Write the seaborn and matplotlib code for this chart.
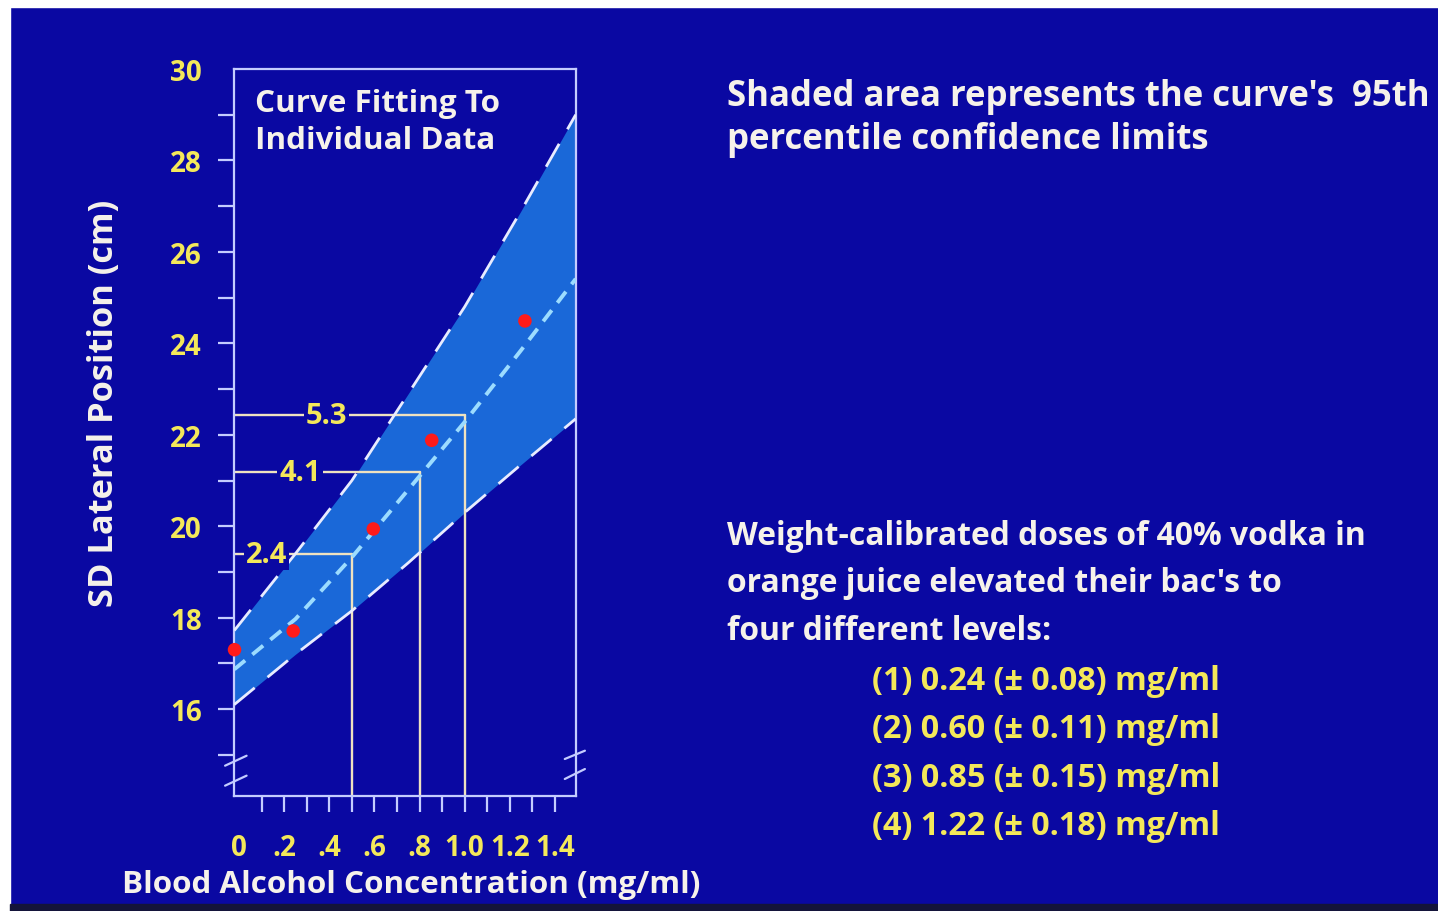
import matplotlib
matplotlib.use("Agg")
import matplotlib.pyplot as plt
from matplotlib.patches import Rectangle
import seaborn as sns
import pandas as pd

# ---------------- data ----------------
fit_x   = [-0.021, 0.25, 0.5, 0.75, 1.0, 1.25, 1.492]
fit_mid = [16.87, 17.97, 19.32, 20.80, 22.28, 23.85, 25.41]
fit_lo  = [16.10, 17.20, 18.15, 19.20, 20.30, 21.35, 22.35]
fit_hi  = [17.72, 19.40, 21.00, 22.90, 24.80, 26.90, 29.00]

dose_x = [-0.02, 0.24, 0.595, 0.854, 1.267]
sdlp_y = [17.30, 17.71, 19.94, 21.88, 24.49]

bracket_x = [0.5, 0.8, 1.0]
bracket_y = [19.39, 21.18, 22.43]
bracket_labels = ["2.4", "4.1", "5.3"]
bracket_label_x = [0.123, 0.27, 0.386]

xtick_vals = [0, 0.2, 0.4, 0.6, 0.8, 1.0, 1.2, 1.4]
xtick_labels = ["0", ".2", ".4", ".6", ".8", "1.0", "1.2", "1.4"]
xminor_vals = [0.1, 0.2, 0.3, 0.4, 0.5, 0.6, 0.7, 0.8, 0.9, 1.0, 1.1, 1.2, 1.3, 1.4]
ytick_vals = [16, 18, 20, 22, 24, 26, 28, 30]
yminor_vals = [15, 17, 19, 21, 23, 25, 27, 29]

title_lines = ["Curve Fitting To", "Individual Data"]
note1_lines = ["Shaded area represents the curve's  95th", "percentile confidence limits"]
note2_lines = ["Weight-calibrated doses of 40% vodka in",
               "orange juice elevated their bac's to",
               "four different levels:"]
dose_lines = ["(1) 0.24 (\u00b1 0.08) mg/ml",
              "(2) 0.60 (\u00b1 0.11) mg/ml",
              "(3) 0.85 (\u00b1 0.15) mg/ml",
              "(4) 1.22 (\u00b1 0.18) mg/ml"]
xlabel = "Blood Alcohol Concentration (mg/ml)"
ylabel = "SD Lateral Position (cm)"

# ---------------- style ----------------
BG = "#0a08a2"
FILL = "#1a68d8"
SPINE = "#c4ccff"
WHITE = "#f6f2ea"
YELLOW = "#f4e85a"
LINEC = "#efe2c0"

sns.set_theme(style="ticks")
plt.rcParams["font.family"] = ["Open Sans", "DejaVu Sans"]
plt.rcParams["font.weight"] = "bold"

W, H = 1438, 912
fig = plt.figure(figsize=(W / 100, H / 100), dpi=100, facecolor=BG)
ax = fig.add_axes([234.3 / W, 1 - 797 / H, 341.4 / W, 727 / H])
ax.set_facecolor(BG)

ax.set_xlim(-0.021, 1.492)
ax.set_ylim(14.1, 30)

df = pd.DataFrame({"x": fit_x, "mid": fit_mid, "lo": fit_lo, "hi": fit_hi})
ax.fill_between(df["x"], df["lo"], df["hi"], color=FILL, lw=0, zorder=1)
sns.lineplot(data=df, x="x", y="hi", ax=ax, color="#e8ecff", lw=2.0,
             linestyle=(0, (9.5, 6)), estimator=None, zorder=3)
sns.lineplot(data=df, x="x", y="lo", ax=ax, color="#e8ecff", lw=2.0,
             linestyle=(0, (9.5, 6)), estimator=None, zorder=3)
sns.lineplot(data=df, x="x", y="mid", ax=ax, color="#9cdcff", lw=2.8,
             linestyle=(0, (3.6, 2.4)), estimator=None, zorder=3)

# brackets
for bx, by, lab, lx in zip(bracket_x, bracket_y, bracket_labels, bracket_label_x):
    ax.plot([ax.get_xlim()[0], bx], [by, by], color=LINEC, lw=1.7, zorder=2)
    ax.plot([bx, bx], [ax.get_ylim()[0], by], color=LINEC, lw=1.7, zorder=2)
    ax.text(lx, by, lab, color=YELLOW, fontsize=21, fontweight="bold",
            ha="center", va="center", zorder=4,
            bbox=dict(boxstyle="square,pad=0.06", fc=BG, ec="none"))

sns.scatterplot(x=dose_x, y=sdlp_y, ax=ax, color="#ff1a1a", s=95,
                edgecolor="none", zorder=6, clip_on=False)

# spines and ticks
for s in ax.spines.values():
    s.set_color(SPINE)
    s.set_linewidth(1.6)
ax.xaxis.remove_overlapping_locs = False
ax.set_xticks(xtick_vals)
ax.set_xticklabels(xtick_labels)
ax.set_xticks(xminor_vals, minor=True)
ax.set_yticks(ytick_vals)
ax.set_yticklabels([str(v) for v in ytick_vals])
ax.set_yticks(yminor_vals, minor=True)
ax.tick_params(axis="x", which="major", length=0, pad=27, labelsize=20,
               labelcolor=YELLOW)
ax.tick_params(axis="x", which="minor", length=11.5, width=1.6, color=SPINE,
               direction="out")
ax.tick_params(axis="y", which="both", length=11.5, width=1.6, color=SPINE,
               direction="out", pad=12, labelsize=20, labelcolor=YELLOW)
for t in ax.get_xticklabels() + ax.get_yticklabels():
    t.set_fontweight("bold")
ax.yaxis.get_major_ticks()[-1].tick1line.set_visible(False)

# axis break marks
for (x0, y0, x1, y1) in [(-0.027, 0.0417, 0.036, 0.0554), (-0.027, 0.0142, 0.036, 0.0280),
                         (0.968, 0.0509, 1.027, 0.0623), (0.968, 0.0234, 1.027, 0.0371)]:
    ax.plot([x0, x1], [y0, y1], transform=ax.transAxes, color=SPINE, lw=1.6,
            clip_on=False, zorder=7)

ax.set_xlabel(xlabel, color=WHITE, fontsize=20, fontweight="bold", va="baseline")
ax.xaxis.set_label_coords((411 - 234.3) / 341.4, (797 - 893) / 727)
ax.set_ylabel(ylabel, color=WHITE, fontsize=20, fontweight="bold", va="center")
ax.yaxis.set_label_coords((104 - 234.3) / 341.4, (797 - 403) / 727)


def ftext(px, py, s, color, size):
    return fig.text(px / W, 1 - py / H, s, color=color, fontsize=size,
                    fontweight="bold", ha="left", va="baseline")


t_title = [ftext(255, 112, title_lines[0], WHITE, 20),
           ftext(255, 149, title_lines[1], WHITE, 20)]
t_note1 = [ftext(727, 106, note1_lines[0], WHITE, 20),
           ftext(727, 149, note1_lines[1], WHITE, 20)]
t_note2 = [ftext(727, 545, note2_lines[0], WHITE, 20),
           ftext(727, 592, note2_lines[1], WHITE, 20),
           ftext(727, 640, note2_lines[2], WHITE, 20)]
t_dose = [ftext(872, 690 + 48.5 * i, s, YELLOW, 20) for i, s in enumerate(dose_lines)]

# frame strips of the original slide
fig.patches.append(Rectangle((0, 1 - 8 / H), 1, 8 / H, transform=fig.transFigure,
                             color="white", zorder=10))
fig.patches.append(Rectangle((0, 0), 10 / W, 1, transform=fig.transFigure,
                             color="white", zorder=10))
fig.patches.append(Rectangle((10 / W, 0), 1, 7 / H, transform=fig.transFigure,
                             color="#14143a", zorder=10))

# fit font sizes to the widths measured on the reference
fig.canvas.draw()
r = fig.canvas.get_renderer()


def fit_group(texts, ref, target, vertical=False):
    bb = ref.get_window_extent(r)
    w = bb.height if vertical else bb.width
    k = target / w
    for t in texts:
        t.set_fontsize(t.get_fontsize() * k)


fit_group(t_title, t_title[0], 245)
fit_group(t_note1, t_note1[0], 703)
fit_group(t_note2, t_note2[0], 640)
fit_group(t_dose, t_dose[0], 348)
fit_group([ax.xaxis.label], ax.xaxis.label, 578)
fit_group([ax.yaxis.label], ax.yaxis.label, 407, vertical=True)

fig.savefig("out.png", dpi=100, facecolor=BG)
